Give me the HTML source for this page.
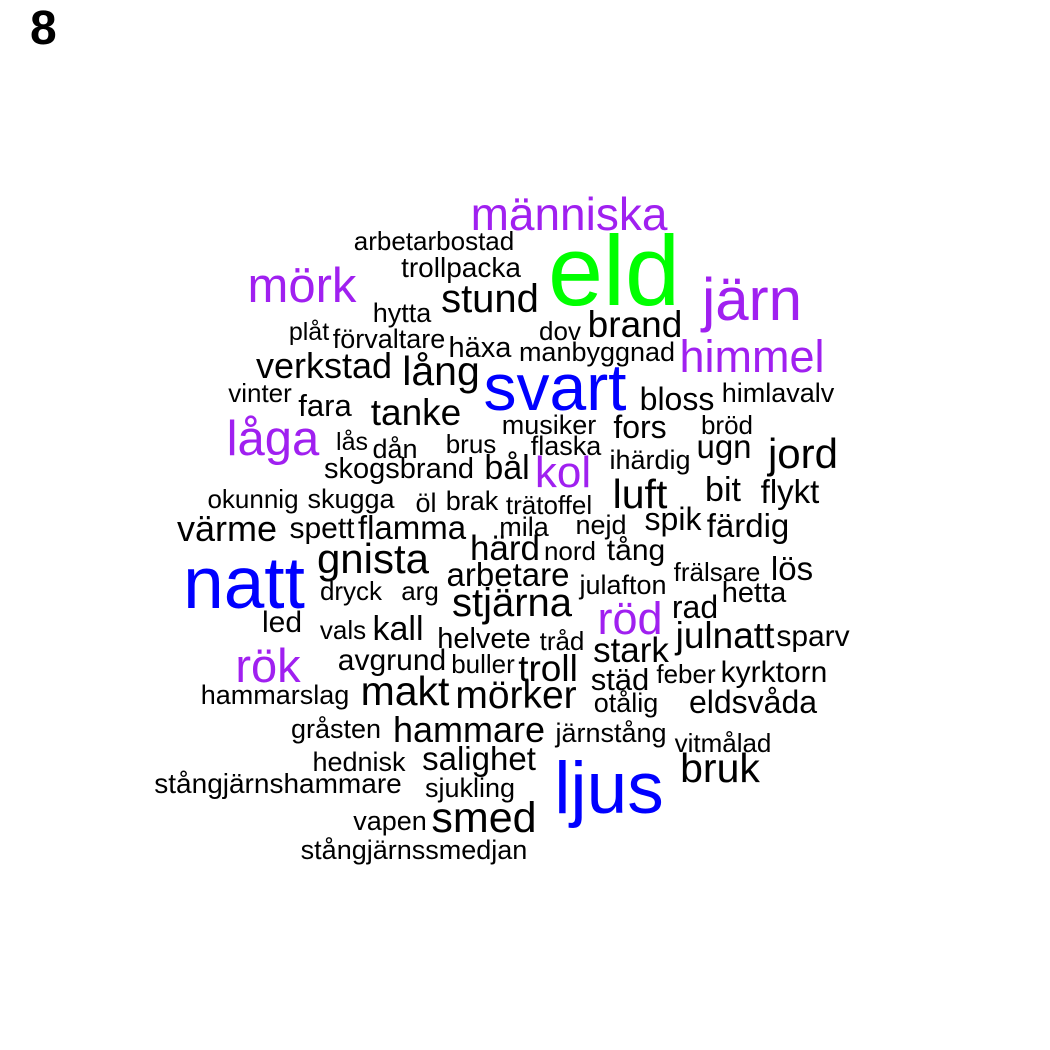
<!DOCTYPE html>
<html>
<head>
<meta charset="utf-8">
<style>
html,body{margin:0;padding:0;background:#fff;}
svg{display:block;}
text{font-family:"Liberation Sans",Arial,sans-serif;}
</style>
</head>
<body>
<svg id="chart" width="1050" height="1050" viewBox="0 0 1050 1050" xmlns="http://www.w3.org/2000/svg">
<rect width="1050" height="1050" fill="#ffffff"/>
<text x="30" y="44" font-size="48" font-weight="bold" fill="#000">8</text>
<g id="words"></g>
</svg>
<script>
const words = ["människa","arbetarbostad","eld","trollpacka","mörk","järn","stund","hytta","plåt","förvaltare","dov","brand","häxa","manbyggnad","himmel","verkstad","lång","svart","vinter","himlavalv","bloss","fara","tanke","bröd","musiker","fors","låga","lås","dån","brus","flaska","ugn","jord","ihärdig","skogsbrand","bål","kol","bit","flykt","luft","okunnig","skugga","öl","brak","trätoffel","värme","spett","flamma","mila","nejd","spik","färdig","härd","nord","tång","gnista","natt","lös","frälsare","arbetare","julafton","dryck","arg","stjärna","hetta","rad","röd","led","vals","kall","helvete","tråd","julnatt","sparv","rök","avgrund","buller","troll","stark","feber","kyrktorn","städ","hammarslag","makt","mörker","otålig","eldsvåda","gråsten","hammare","järnstång","vitmålad","hednisk","salighet","ljus","bruk","stångjärnshammare","sjukling","vapen","smed","stångjärnssmedjan"];
const sizes = [46,26,99,28,49,60,40,27,25,27,26,37,29,27,45,36,41,66,26,27,32,31,37,26,27,32,49,25,27,26,27,33,42,27,29,34,44,34,33,41,26,27,27,27,26,36,30,33,27,27,32,33,35,26,30,42,73,33,26,33,27,26,26,40,29,32,45,30,26,34,29,26,37,30,47,30,26,37,35,26,30,31,27,41,39,27,32,27,36,27,26,27,33,73,41,28,27,27,43,27];
const colors = ["p","k","g","k","p","p","k","k","k","k","k","k","k","k","p","k","k","b","k","k","k","k","k","k","k","k","p","k","k","k","k","k","k","k","k","k","p","k","k","k","k","k","k","k","k","k","k","k","k","k","k","k","k","k","k","k","b","k","k","k","k","k","k","k","k","k","p","k","k","k","k","k","k","k","p","k","k","k","k","k","k","k","k","k","k","k","k","k","k","k","k","k","k","b","k","k","k","k","k","k"];
const cx = [569,434,614,461,302,752,490,402,309,389,560,635,480,597,752,324,441,555,260,778,677,325,416,727,549,640,273,352,395,471,566,724,803,650,399,507,563,723,790,640,253,351,426,472,549,227,322,412,524,601,673,748,505,570,636,373,244,792,717,508,623,351,420,512,754,695,630,282,343,398,484,562,725,813,268,392,483,548,631,686,774,620,275,405,516,626,753,336,469,611,723,359,479,609,720,278,470,390,484,414];
const by = [230,250,305,277,302,320,312,322,340,348,340,337,357,361,372,378,385,410,402,402,410,416,425,434,434,438,455,450,458,453,455,458,468,469,478,479,487,501,503,508,508,508,512,510,514,541,538,539,536,534,530,537,560,560,560,573,608,580,581,586,594,600,600,616,602,618,634,632,639,640,648,650,648,646,682,670,673,681,662,683,682,690,704,705,708,712,713,738,742,742,752,771,770,813,782,793,797,830,832,859];
const palette = {k:"#000000", b:"#0000FF", g:"#00FF00", p:"#A020F0"};
const g = document.getElementById("words");
const NS = "http://www.w3.org/2000/svg";
for (let i = 0; i < words.length; i++) {
  const t = document.createElementNS(NS, "text");
  t.setAttribute("x", cx[i]);
  t.setAttribute("y", by[i]);
  t.setAttribute("text-anchor", "middle");
  t.setAttribute("font-size", sizes[i]);
  t.setAttribute("fill", palette[colors[i]]);
  t.textContent = words[i];
  
  
  g.appendChild(t);
}
</script>
</body>
</html>
